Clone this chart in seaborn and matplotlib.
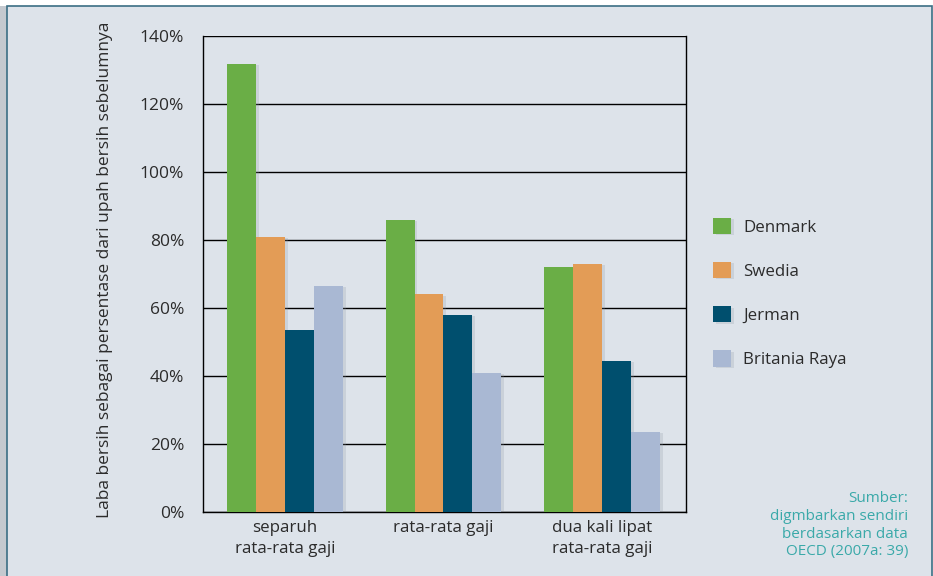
import matplotlib
matplotlib.use("Agg")
import matplotlib.pyplot as plt
import matplotlib.patheffects as pe
from matplotlib.patches import Rectangle
import seaborn as sns
import pandas as pd

categories = ["separuh\nrata-rata gaji", "rata-rata gaji", "dua kali lipat\nrata-rata gaji"]
countries = ["Denmark", "Swedia", "Jerman", "Britania Raya"]
denmark = [131.8, 86, 72]
swedia = [81, 64, 73]
jerman = [53.5, 58, 44.5]
britania = [66.5, 41, 23.5]
yticks = [0, 20, 40, 60, 80, 100, 120, 140]
ylabel = "Laba bersih sebagai persentase dari upah bersih sebelumnya"
source = "Sumber:\ndigmbarkan sendiri\nberdasarkan data\nOECD (2007a: 39)"

colors = ["#6aae46", "#e39c56", "#004f6e", "#a9b8d3"]
bg = "#dde3ea"
txt = "#2b2b2b"

rows = []
for country, vals in zip(countries, [denmark, swedia, jerman, britania]):
    for cat, v in zip(categories, vals):
        rows.append({"cat": cat, "country": country, "value": v})
df = pd.DataFrame(rows)

sns.set_style("white")
plt.rcParams["font.family"] = ["Open Sans", "DejaVu Sans"]

fig = plt.figure(figsize=(9.33, 5.76), dpi=100, facecolor="white")
W, H = 933, 576
# panel background
fig.patches.append(Rectangle((0, 0), 7 / W, 1 - 6 / H, transform=fig.transFigure,
                             facecolor="#c4c9cf", edgecolor="none", zorder=-3))
fig.patches.append(Rectangle((7 / W, -0.01), (932 - 7) / W, 1 - 6 / H + 0.01,
                             transform=fig.transFigure, facecolor=bg,
                             edgecolor="#3b6e84", linewidth=1.2, zorder=-2))

ax = fig.add_axes([203 / W, 64 / H, 483 / W, 476 / H])
ax.set_facecolor("none")

sns.barplot(data=df, x="cat", y="value", hue="country", hue_order=countries,
            order=categories, palette=colors, width=0.73, gap=0, saturation=1,
            ax=ax, legend=False)

def shadow():
    return [pe.SimplePatchShadow(offset=(2, -1), shadow_rgbFace="#8a95a0", alpha=0.22),
            pe.Normal()]

for p in ax.patches:
    p.set_path_effects(shadow())
    p.set_zorder(3)
    p.set_edgecolor("none")

ax.set_ylim(0, 140)
ax.set_xlim(-0.517, 2.53)
ax.set_yticks(yticks)
ax.set_yticklabels([f"{t}%" for t in yticks], fontsize=12.5, color=txt)
ax.tick_params(axis="y", length=7.5, width=1, color="black", pad=6, direction="out")
ax.tick_params(axis="x", length=0, pad=6, labelsize=12.2, labelcolor=txt)
for lab in ax.get_xticklabels():
    lab.set_linespacing(1.4)
ax.yaxis.grid(True, color="black", linewidth=1)
ax.set_axisbelow(True)
for s in ["left", "right", "bottom", "top"]:
    ax.spines[s].set_color("black")
    ax.spines[s].set_linewidth(1)
ax.spines["top"].set_visible(False)
ax.set_xlabel("")
ax.set_ylabel(ylabel, fontsize=12.5, color=txt)
ax.yaxis.set_label_coords(-0.186, 0.508)

handles = [Rectangle((0, 0), 1, 1, facecolor=c, edgecolor="none",
                     path_effects=shadow())
           for c in colors]
leg = fig.legend(handles, countries, loc="upper left",
                 bbox_to_anchor=(706 / W, 1 - 211 / H), frameon=False,
                 fontsize=12.2, handlelength=1.08, handleheight=1.08,
                 handletextpad=0.7, labelspacing=1.56, borderaxespad=0)
for t in leg.get_texts():
    t.set_color(txt)

fig.text(908 / W, 1 - 491 / H, source, ha="right", va="top", fontsize=11,
         color="#3aa9a9", linespacing=1.25)

fig.savefig("out.png", dpi=100, facecolor=fig.get_facecolor())
